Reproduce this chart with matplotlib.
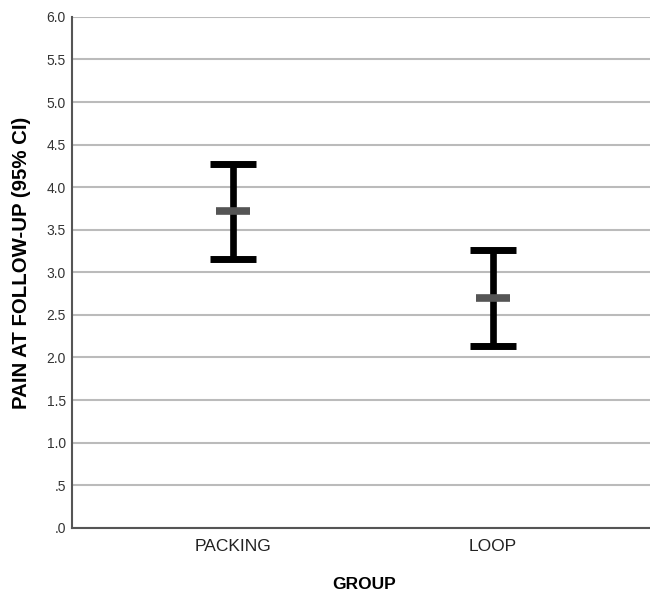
import matplotlib.pyplot as plt
import numpy as np

# data
groups = ["PACKING", "LOOP"]
means = [3.72, 2.70]
ci_low = [3.16, 2.13]
ci_high = [4.27, 3.26]
yticks = [0, 0.5, 1.0, 1.5, 2.0, 2.5, 3.0, 3.5, 4.0, 4.5, 5.0, 5.5, 6.0]
ytick_labels = [".0", ".5", "1.0", "1.5", "2.0", "2.5", "3.0", "3.5", "4.0", "4.5", "5.0", "5.5", "6.0"]

plt.rcParams['font.family'] = ['Liberation Sans', 'DejaVu Sans']

fig = plt.figure(figsize=(6.5, 5.93), dpi=100)
ax = fig.add_axes([0.1115, 0.110, 0.8885, 0.8615])

x = np.arange(len(groups))
means = np.array(means)
err = np.array([means - np.array(ci_low), np.array(ci_high) - means])

ax.errorbar(x, means, yerr=err, fmt='none', ecolor='black', elinewidth=4.8,
            capsize=16.5, capthick=5, zorder=3)
ax.plot(x, means, linestyle='none', marker='_', markersize=24,
        markeredgewidth=5.5, color='#555555', zorder=4)

ax.set_xlim(-0.618, 1.604)
ax.set_ylim(0, 6.0)
ax.set_xticks(x)
ax.set_xticklabels(groups, fontsize=12.5, color='#222222')
ax.set_yticks(yticks)
ax.set_yticklabels(ytick_labels, fontsize=10, color='#333333')
ax.tick_params(axis='x', length=0, pad=8)
ax.tick_params(axis='y', length=0, pad=4.7)

ax.grid(axis='y', color='#bbbbbb', linewidth=1.5, zorder=0)
ax.set_axisbelow(True)
for s in ['top', 'right']:
    ax.spines[s].set_visible(False)
for s in ['left', 'bottom']:
    ax.spines[s].set_color('#555555')
    ax.spines[s].set_linewidth(1.5)

ax.set_xlabel("GROUP", fontsize=12.5, fontweight='bold', va='center')
ax.xaxis.set_label_coords(0.505, -0.112)
ax.set_ylabel("PAIN AT FOLLOW-UP (95% CI)", fontsize=14.7, fontweight='bold', va='center')
ax.yaxis.set_label_coords(-0.088, 0.519)

fig.savefig("out.png", dpi=100)
